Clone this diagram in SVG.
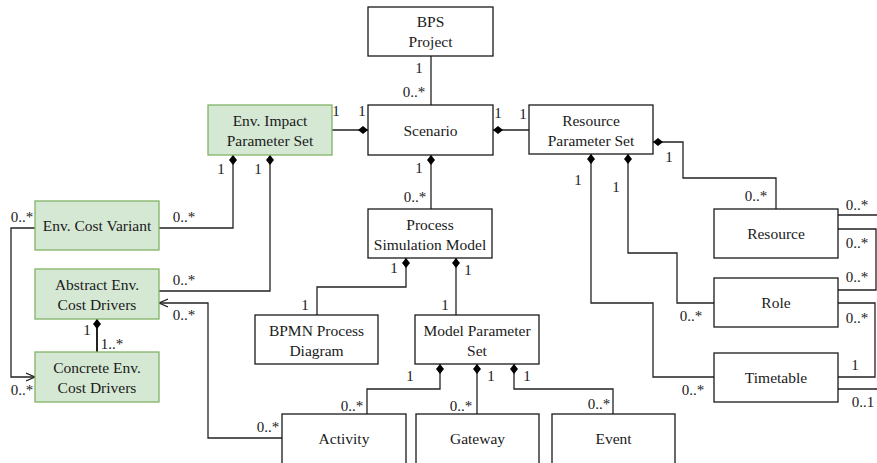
<svg xmlns="http://www.w3.org/2000/svg" width="877" height="463" viewBox="0 0 877 463">
<defs>
<style>
.box{fill:#fff;stroke:#1a1a1a;stroke-width:1.3}
.green{fill:#d5e8d4;stroke:#82b366;stroke-width:1.3}
.t{font-family:'Liberation Serif','Times New Roman',serif;font-size:15.5px;fill:#1a1a1a;text-anchor:middle}
.l{font-family:'Liberation Serif','Times New Roman',serif;font-size:15px;fill:#1a1a1a;text-anchor:middle}
.c{fill:none;stroke:#222;stroke-width:1.3}
.cd{fill:none;stroke:#222;stroke-width:1.3;marker-start:url(#dia)}
.ca{fill:none;stroke:#222;stroke-width:1.3;marker-end:url(#open)}
</style>
<marker id="dia" markerUnits="userSpaceOnUse" markerWidth="10" markerHeight="8" refX="0" refY="4" orient="auto" viewBox="0 0 10 8">
<path d="M0,4 L5,0 L10,4 L5,8 Z" fill="#000" stroke="none"/>
</marker>
<marker id="open" markerUnits="userSpaceOnUse" markerWidth="10" markerHeight="10" refX="9" refY="5" orient="auto" viewBox="0 0 10 10">
<path d="M0,1 L9,5 L0,9" fill="none" stroke="#222" stroke-width="1.3"/>
</marker>
</defs>

<g id="connectors">
<path class="c" d="M431,56 V105"/>
<path class="cd" d="M368,130 H332"/>
<path class="cd" d="M493,130 H529"/>
<path class="cd" d="M431,155 V209"/>
<path class="cd" d="M233,155 V228 H159"/>
<path class="cd" d="M270,155 V291 H159"/>
<path class="cd" d="M97,319 V352" style="stroke-width:2"/>
<path class="cd" d="M653,142 H683 V178 H776 V209"/>
<path class="cd" d="M628,154 V253 H677 V303 H714"/>
<path class="cd" d="M591,154 V303 H653 V377 H714"/>
<path class="cd" d="M406,258 V287 H317 V315"/>
<path class="cd" d="M456,258 V315"/>
<path class="cd" d="M440,364 V389 H367 V414"/>
<path class="cd" d="M477,364 V414"/>
<path class="cd" d="M514,364 V389 H613 V414"/>
<path class="ca" d="M35,228 H11 V377 H35"/>
<path class="ca" d="M282,438 H208 V303 H159"/>
<path class="c" d="M838,229 H876 V290 H838"/>
<path class="c" d="M838,303 H875 V377 H838"/>
<path class="c" d="M838,215 H877"/>
<path class="c" d="M838,389 H877"/>
</g>

<g id="labels">
<text class="l" x="419" y="73">1</text>
<text class="l" x="414" y="97">0..*</text>
<text class="l" x="336" y="116">1</text>
<text class="l" x="362" y="116">1</text>
<text class="l" x="498" y="118">1</text>
<text class="l" x="523" y="119">1</text>
<text class="l" x="419" y="173">1</text>
<text class="l" x="415" y="202">0..*</text>
<text class="l" x="221" y="174">1</text>
<text class="l" x="258" y="174">1</text>
<text class="l" x="184" y="222">0..*</text>
<text class="l" x="184" y="285">0..*</text>
<text class="l" x="22" y="222">0..*</text>
<text class="l" x="22" y="395">0..*</text>
<text class="l" x="87" y="335">1</text>
<text class="l" x="112" y="349">1..*</text>
<text class="l" x="184" y="320">0..*</text>
<text class="l" x="268" y="432">0..*</text>
<text class="l" x="669" y="162">1</text>
<text class="l" x="756" y="201">0..*</text>
<text class="l" x="578" y="185">1</text>
<text class="l" x="616" y="192">1</text>
<text class="l" x="691" y="321">0..*</text>
<text class="l" x="693" y="395">0..*</text>
<text class="l" x="394" y="273">1</text>
<text class="l" x="468" y="275">1</text>
<text class="l" x="305" y="310">1</text>
<text class="l" x="445" y="310">1</text>
<text class="l" x="410" y="381">1</text>
<text class="l" x="491" y="381">1</text>
<text class="l" x="527" y="381">1</text>
<text class="l" x="352" y="411">0..*</text>
<text class="l" x="461" y="411">0..*</text>
<text class="l" x="599" y="409">0..*</text>
<text class="l" x="857" y="210">0..*</text>
<text class="l" x="857" y="248">0..*</text>
<text class="l" x="857" y="282">0..*</text>
<text class="l" x="857" y="323">0..*</text>
<text class="l" x="855" y="370">1</text>
<text class="l" x="863" y="407">0..1</text>
</g>

<g id="bps"><rect class="box" x="368" y="7" width="125" height="49"/><text class="t" x="430.5" y="27">BPS</text><text class="t" x="430.5" y="47">Project</text></g>
<g id="scenario"><rect class="box" x="368" y="105" width="125" height="50"/><text class="t" x="430.5" y="136">Scenario</text></g>
<g id="envImpact"><rect class="green" x="208" y="105" width="124" height="50"/><text class="t" x="270" y="126">Env. Impact</text><text class="t" x="270" y="146">Parameter Set</text></g>
<g id="resParam"><rect class="box" x="529" y="105" width="124" height="49"/><text class="t" x="591" y="126">Resource</text><text class="t" x="591" y="146">Parameter Set</text></g>
<g id="costVariant"><rect class="green" x="35" y="201" width="124" height="49"/><text class="t" x="97" y="231">Env. Cost Variant</text></g>
<g id="abstract"><rect class="green" x="35" y="269" width="124" height="50"/><text class="t" x="97" y="290">Abstract Env.</text><text class="t" x="97" y="310">Cost Drivers</text></g>
<g id="concrete"><rect class="green" x="35" y="352" width="124" height="50"/><text class="t" x="97" y="373">Concrete Env.</text><text class="t" x="97" y="393">Cost Drivers</text></g>
<g id="psm"><rect class="box" x="368" y="209" width="124" height="49"/><text class="t" x="430" y="230">Process</text><text class="t" x="430" y="250">Simulation Model</text></g>
<g id="bpmn"><rect class="box" x="255" y="315" width="123" height="49"/><text class="t" x="316.5" y="336">BPMN Process</text><text class="t" x="316.5" y="356">Diagram</text></g>
<g id="mps"><rect class="box" x="415" y="315" width="124" height="49"/><text class="t" x="477" y="336">Model Parameter</text><text class="t" x="477" y="356">Set</text></g>
<g id="resource"><rect class="box" x="714" y="209" width="124" height="49"/><text class="t" x="776" y="239">Resource</text></g>
<g id="role"><rect class="box" x="714" y="278" width="124" height="49"/><text class="t" x="776" y="308">Role</text></g>
<g id="timetable"><rect class="box" x="714" y="353" width="124" height="49"/><text class="t" x="776" y="383">Timetable</text></g>
<g id="activity"><rect class="box" x="282" y="414" width="124" height="50"/><text class="t" x="344" y="444">Activity</text></g>
<g id="gateway"><rect class="box" x="416" y="414" width="123" height="50"/><text class="t" x="477.5" y="444">Gateway</text></g>
<g id="event"><rect class="box" x="552" y="414" width="123" height="50"/><text class="t" x="613.5" y="444">Event</text></g>
</svg>
